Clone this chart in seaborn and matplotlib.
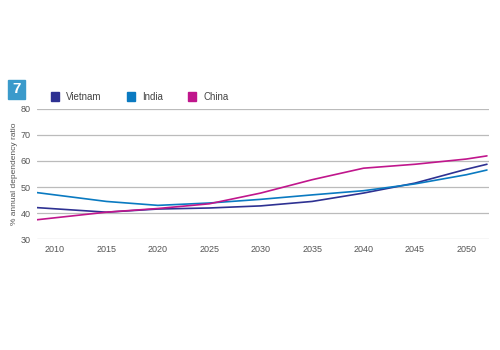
import matplotlib
matplotlib.use("Agg")
import matplotlib.pyplot as plt
import seaborn as sns
import pandas as pd
from matplotlib.patches import Rectangle

years = [2008, 2015, 2020, 2025, 2030, 2035, 2040, 2045, 2050, 2052]
vietnam = [42.2, 40.4, 41.6, 42.0, 42.8, 44.5, 47.7, 51.5, 56.8, 58.7]
india = [48.0, 44.5, 43.0, 43.9, 45.3, 47.0, 48.6, 51.2, 54.7, 56.5]
china = [37.4, 40.4, 41.8, 43.6, 47.7, 52.8, 57.2, 58.7, 60.7, 61.9]
series_names = ["Vietnam", "India", "China"]
colors = ["#2e3192", "#0a7ac1", "#c0168c"]
xticks = [2010, 2015, 2020, 2025, 2030, 2035, 2040, 2045, 2050]
yticks = [30, 40, 50, 60, 70, 80]
ylabel = "% annual dependency ratio"
badge = "7"

df = pd.concat([
    pd.DataFrame({"year": years, "value": v, "country": n})
    for n, v in zip(series_names, [vietnam, india, china])
])

sns.set_style("white")
plt.rcParams['font.family'] = ['Liberation Sans', 'DejaVu Sans']

fig = plt.figure(figsize=(5, 3.5), dpi=100)
ax = fig.add_axes([0.073, 0.316, 0.905, 0.374])

sns.lineplot(data=df, x="year", y="value", hue="country",
             hue_order=series_names, palette=colors, linewidth=1.2,
             legend=False, ax=ax)

ax.set_xlim(2008.2, 2052.2)
ax.set_ylim(30, 80)
ax.set_xticks(xticks)
ax.set_yticks(yticks)
ax.tick_params(axis="both", length=0, labelsize=6.5, labelcolor="#555555", pad=4)
ax.yaxis.grid(True, color="#bbbbbb", linewidth=0.9)
ax.xaxis.grid(False)
for s in ax.spines.values():
    s.set_visible(False)
ax.set_xlabel("")
ax.set_ylabel(ylabel, fontsize=6, color="#555555", labelpad=2)

# badge
fig.patches.append(Rectangle((8.3/500, 1-99/350), 16.4/500, 19/350,
                             transform=fig.transFigure, color="#3a9acb"))
fig.text(16.5/500, 1-89/350, badge, color="white", fontsize=11, fontweight="bold",
         ha="center", va="center")

# legend
leg_x = [51, 127, 188]
for n, c, x in zip(series_names, colors, leg_x):
    fig.patches.append(Rectangle((x/500, 1-100.7/350), 8.3/500, 8.7/350,
                                 transform=fig.transFigure, color=c))
    fig.text((x+15)/500, 1-97.5/350, n, fontsize=7, color="#444444",
             ha="left", va="center")

fig.savefig("out.png", dpi=100)
